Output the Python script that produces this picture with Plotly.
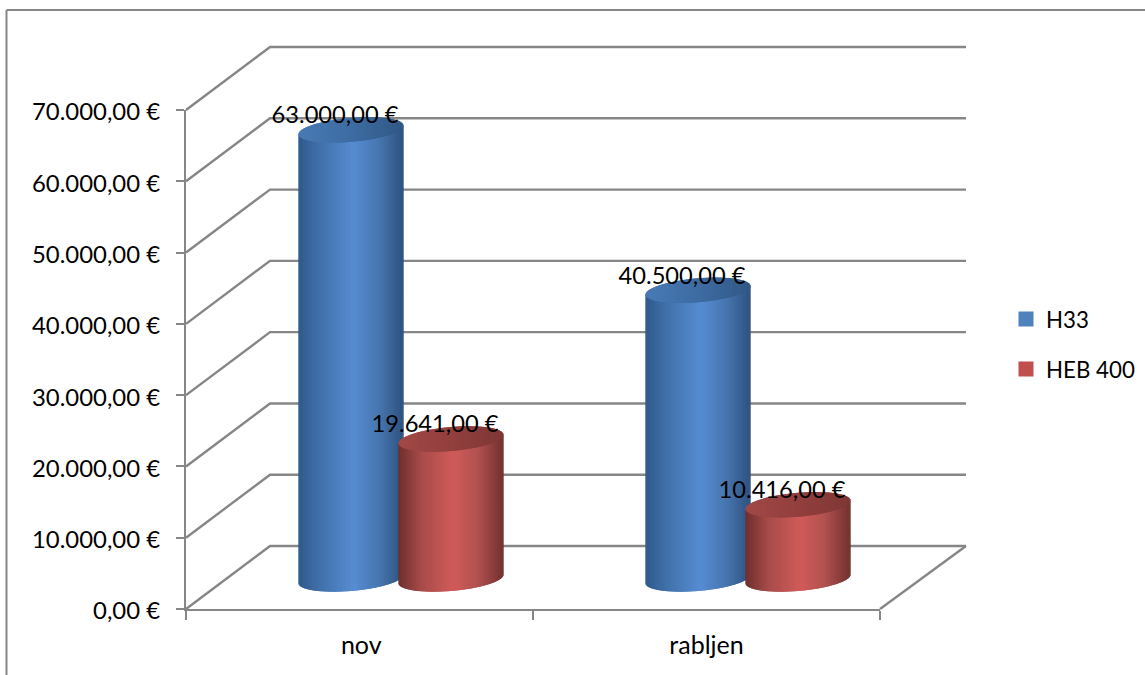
import numpy as np
import plotly.graph_objects as go

# Chart data
categories = ["nov", "rabljen"]
series_names = ["H33", "HEB 400"]
h33_values = [63000, 40500]
heb400_values = [19641, 10416]
axis_ticks = [0, 10000, 20000, 30000, 40000, 50000, 60000, 70000]

WIDTH, HEIGHT = 1145, 675
GRID = "#868686"
FONT = "Lato"

# Frame of the front plane on the page, in pixels
LEFT, RIGHT, BOTTOM, TOP = 186, 880, 609, 110
PX_X = (RIGHT - LEFT) / 2
PX_Y = (BOTTOM - TOP) / 70000

# Oblique projection of the third dimension, in axis units
DEPTH_X, DEPTH_Y = 0.2421, 8836
DEPTH_X_FAR = 0.2478
RADIUS_X = 0.1513
CAP_MINOR, CAP_SHEAR = 1680, 600
BASE_LIFT = 4210
SERIES_OFFSET = [0.4755, 0.7637]
LABEL_DX, LABEL_DY = -0.046, 1750

# Shading across each cylinder: (position from -1 to 1, colour)
BODY_SHADES = [
    [(-1, "#2e5a8c"), (-0.55, "#4373ad"), (0.05, "#568cd2"), (0.5, "#4878b3"), (1, "#2f527f")],
    [(-1, "#6f2f2e"), (-0.55, "#a84c4a"), (0.05, "#d05b59"), (0.5, "#b25150"), (1, "#713130")],
]
CAP_SHADES = [
    [(-1, "#4a7ab4"), (0, "#3d6ca3"), (1, "#315885")],
    [(-1, "#a04947"), (0, "#933f3e"), (1, "#7e3735")],
]
LEGEND_COLORS = ["#4f81bd", "#c0504d"]


def shade(stops, u):
    pos = [s[0] for s in stops]
    rgb = [[int(s[1][i:i + 2], 16) for s in stops] for i in (1, 3, 5)]
    return "rgb({},{},{})".format(*[int(round(np.interp(u, pos, ch))) for ch in rgb])


def euro(value):
    text = f"{value:,.2f}".replace(",", "#").replace(".", ",").replace("#", ".")
    return text + " €"


def strip(fig, xs, ys, color):
    fig.add_trace(go.Scatter(
        x=xs, y=ys, xaxis="x2", yaxis="y2", mode="lines", fill="toself", fillcolor=color,
        line=dict(width=0, color=color), showlegend=False, hoverinfo="skip",
    ))


def cylinder(fig, center, value, body, cap, n=60):
    us = np.cos(np.linspace(np.pi, 0, n + 1))
    base = BASE_LIFT
    top = value + BASE_LIFT
    for lower_is_base in (True, False):
        for i in range(n):
            seg = np.array([us[i], us[i + 1], us[min(i + 2, n)]])
            um = 0.5 * (us[i] + us[i + 1])
            xs = center + RADIUS_X * seg
            arc = CAP_MINOR * np.sqrt(np.clip(1 - seg ** 2, 0, 1))
            lean = CAP_SHEAR * seg
            if lower_is_base:
                # side wall, from the front of the base arc up to the middle of the cap
                ys = list(base + lean - arc) + list((top + lean)[::-1])
                color = shade(body, um)
            else:
                ys = list(top + lean - arc) + list((top + lean + arc)[::-1])
                color = shade(cap, um)
            strip(fig, list(xs) + list(xs[::-1]), ys, color)


fig = go.Figure()

# Legend entries; they also keep the tick-bearing axes in use
for s, name in enumerate(series_names):
    fig.add_trace(go.Scatter(
        x=[None], y=[None], mode="markers", name=name, legendgroup=name,
        marker=dict(symbol="square", size=15, color=LEGEND_COLORS[s]),
    ))

# Walls and floor of the chart box
wall_x, wall_y = [], []
for v in axis_ticks:
    wall_x += [0, DEPTH_X, 2 + DEPTH_X_FAR, None]
    wall_y += [v, v + DEPTH_Y, v + DEPTH_Y, None]
wall_x += [2, 2 + DEPTH_X_FAR, None]
wall_y += [0, DEPTH_Y, None]
fig.add_trace(go.Scatter(
    x=wall_x, y=wall_y, xaxis="x2", yaxis="y2", mode="lines",
    line=dict(color=GRID, width=2.4), showlegend=False, hoverinfo="skip",
))

# Cylinders, one series colour at a time inside each category
all_series = [h33_values, heb400_values]
for c in range(len(categories)):
    for s, values in enumerate(all_series):
        cylinder(fig, c + SERIES_OFFSET[s], values[c], BODY_SHADES[s], CAP_SHADES[s])

# Value labels over the cylinder tops
label_x, label_y, label_text = [], [], []
for c in range(len(categories)):
    for s, values in enumerate(all_series):
        label_x.append(c + SERIES_OFFSET[s] + LABEL_DX)
        label_y.append(values[c] + BASE_LIFT + LABEL_DY)
        label_text.append(euro(values[c]))
fig.add_trace(go.Scatter(
    x=label_x, y=label_y, xaxis="x2", yaxis="y2", text=label_text, mode="text",
    textposition="middle center", textfont=dict(family=FONT, size=23.7, color="black"),
    showlegend=False, hoverinfo="skip",
))

fig.update_layout(
    width=WIDTH, height=HEIGHT, autosize=False,
    margin=dict(l=0, r=0, t=0, b=0, autoexpand=False),
    paper_bgcolor="white", plot_bgcolor="rgba(0,0,0,0)",
    font=dict(family=FONT, size=23.7, color="black"),
    showlegend=True,
    legend=dict(
        x=1006 / WIDTH, xanchor="left", y=1 - 298 / HEIGHT, yanchor="top",
        tracegroupgap=18, bgcolor="rgba(0,0,0,0)", font=dict(family=FONT, size=22.3),
    ),
    xaxis=dict(
        domain=[LEFT / WIDTH, RIGHT / WIDTH], range=[0, 2],
        tickmode="array", tickvals=[0.505, 1.5], ticktext=categories,
        ticks="", showgrid=False, zeroline=False,
        showline=True, linecolor=GRID, linewidth=2.4,
        minor=dict(tick0=0, dtick=1, ticks="outside", ticklen=9, tickwidth=2,
                   tickcolor=GRID, showgrid=False),
        ticklabelstandoff=13,
        tickfont=dict(family=FONT, size=25),
    ),
    yaxis=dict(
        domain=[1 - BOTTOM / HEIGHT, 1 - TOP / HEIGHT], range=[0, 70000],
        tickmode="array", tickvals=axis_ticks, ticktext=[euro(v) for v in axis_ticks],
        ticks="outside", ticklen=8, tickwidth=2, tickcolor=GRID,
        showgrid=False, zeroline=False,
        showline=True, linecolor=GRID, linewidth=2.4,
        ticklabelstandoff=11, ticklabelshift=2,
        tickfont=dict(family=FONT, size=23.9),
    ),
    # Hidden full-page axes on the same scale, so the depth can leave the front plane
    xaxis2=dict(
        domain=[0, 1], anchor="y2", visible=False,
        range=[-LEFT / PX_X, (WIDTH - LEFT) / PX_X],
    ),
    yaxis2=dict(
        domain=[0, 1], anchor="x2", visible=False,
        range=[(BOTTOM - HEIGHT) / PX_Y, BOTTOM / PX_Y],
    ),
    shapes=[
        # chart frame, running off the page on the right and at the bottom
        dict(type="line", xref="paper", yref="paper", x0=6.5 / WIDTH, x1=1.01,
             y0=1 - 10 / HEIGHT, y1=1 - 10 / HEIGHT, line=dict(color=GRID, width=2)),
        dict(type="line", xref="paper", yref="paper", x0=6.5 / WIDTH, x1=6.5 / WIDTH,
             y0=-0.01, y1=1 - 10 / HEIGHT, line=dict(color=GRID, width=2)),
    ],
)

fig.write_html("out.html")
